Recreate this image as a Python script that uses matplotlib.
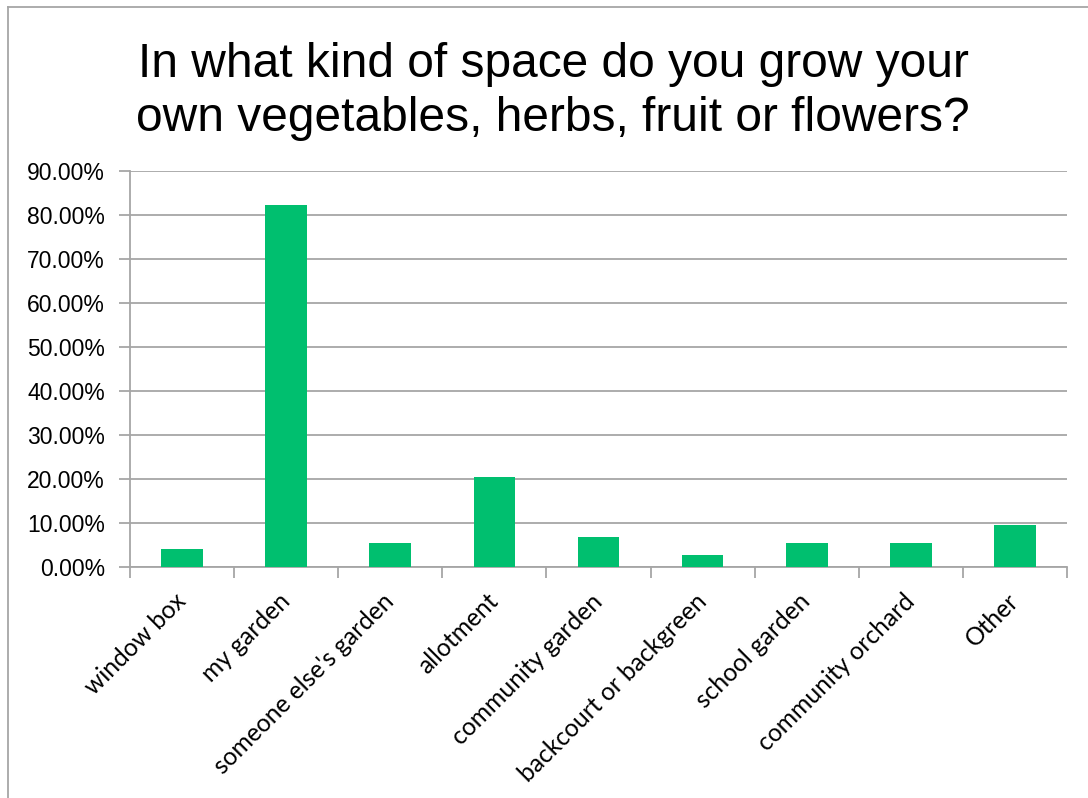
import matplotlib.pyplot as plt
from matplotlib.lines import Line2D
from matplotlib.ticker import FuncFormatter
import numpy as np

categories = ["window box", "my garden", "someone else's garden", "allotment",
              "community garden", "backcourt or backgreen", "school garden",
              "community orchard", "Other"]
values = [4.1, 82.2, 5.5, 20.5, 6.8, 2.7, 5.5, 5.5, 9.5]
yticks = [0, 10, 20, 30, 40, 50, 60, 70, 80, 90]

green = "#00BF6F"
gray = "#A6A6A6"

fig = plt.figure(figsize=(10.88, 7.98), dpi=100)
ax = fig.add_axes([130 / 1088, 1 - 567 / 798, 937 / 1088, 396 / 798])

x = np.arange(len(categories))
ax.bar(x, values, width=0.4, color=green, zorder=3)

ax.set_xlim(-0.5, len(categories) - 0.5)
ax.set_ylim(0, 90)
ax.set_yticks(yticks)
ax.yaxis.set_major_formatter(FuncFormatter(lambda v, p: f"{v:.2f}%"))
ax.grid(axis="y", color=gray, linewidth=1.3, zorder=0)

# category ticks sit between the bars
ax.set_xticks(np.arange(len(categories) + 1) - 0.5)
ax.set_xticklabels([])
ax.set_xticks(x, minor=True)
ax.set_xticklabels(categories, minor=True, rotation=45, ha="right",
                   va="center", rotation_mode="anchor",
                   fontsize=17.7, family="Lato")
ax.tick_params(axis="x", which="minor", length=0, pad=22)
ax.tick_params(axis="x", which="major", length=8, color=gray, width=1.3)
ax.tick_params(axis="y", length=8, color=gray, width=1.3, pad=10,
               labelsize=16.5)
for lbl in ax.get_yticklabels():
    lbl.set_family("Liberation Sans")

for side in ["top", "right"]:
    ax.spines[side].set_visible(False)
for side in ["left", "bottom"]:
    ax.spines[side].set_color(gray)
    ax.spines[side].set_linewidth(1.3)

fig.text(553 / 1088, 1 - 91.5 / 798,
         "In what kind of space do you grow your\nown vegetables, herbs, fruit or flowers?",
         ha="center", va="center", fontsize=34.5, family="Liberation Sans",
         linespacing=1.24)

# outer chart border (top and left edges)
fig.add_artist(Line2D([8 / 1088, 1], [1 - 7 / 798, 1 - 7 / 798],
                      transform=fig.transFigure, color=gray, linewidth=1.3))
fig.add_artist(Line2D([8 / 1088, 8 / 1088], [0, 1 - 7 / 798],
                      transform=fig.transFigure, color=gray, linewidth=1.3))

fig.savefig("out.png", dpi=100)
